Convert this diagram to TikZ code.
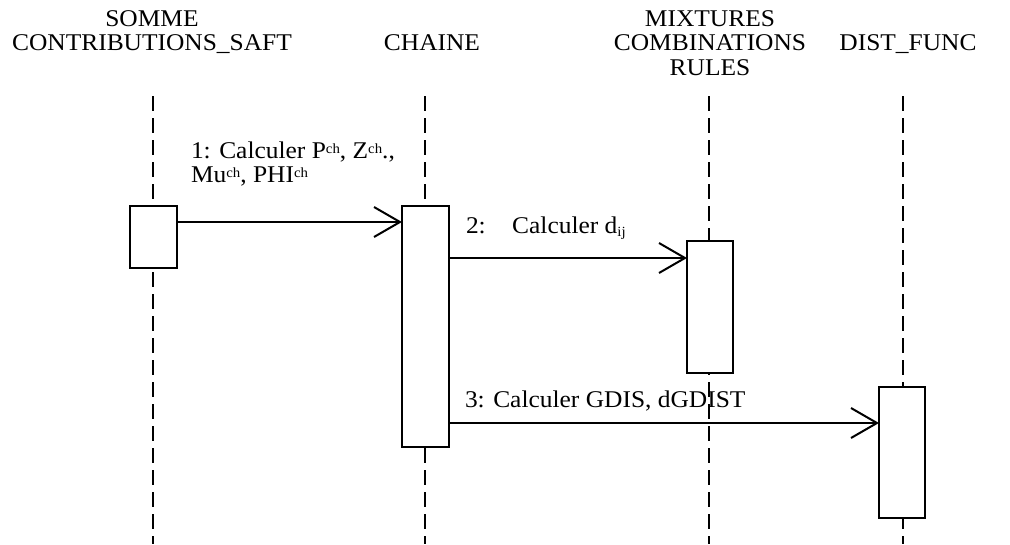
\documentclass[tikz,border=0pt]{standalone}
\usepackage{fontspec}
\setmainfont[FakeStretch=1.06]{Liberation Serif}
\usetikzlibrary{arrows.meta}
\newcommand\supch[1]{\raisebox{0.42ex}{\fontsize{14}{14}\selectfont #1}}
\newcommand\subij[1]{\raisebox{-0.35ex}{\fontsize{14}{14}\selectfont #1}}
\begin{document}
\begin{tikzpicture}[x=1pt,y=-1pt,
  every node/.style={inner sep=0pt,outer sep=0pt},
  hdr/.style={font=\fontsize{24}{28}\selectfont, anchor=base},
  lbl/.style={font=\fontsize{24}{28}\selectfont, anchor=base west},
  life/.style={line width=2pt, dash pattern=on 15pt off 7pt},
  act/.style={draw, line width=2pt, fill=white, anchor=north west},
  msg/.style={line width=2pt, -{Straight Barb[length=26pt,width=30pt,line width=2pt]}}
]
\useasboundingbox (0,0) rectangle (1010,544);
% headers
\node[hdr] (hS2) at (152,26) {SOMME};
\node[hdr] (hS) at (152,50.5) {CONTRIBUTIONS\_SAFT};
\node[hdr] (hC) at (432,50.5) {CHAINE};
\node[hdr] (hM1) at (710,26) {MIXTURES};
\node[hdr] (hM2) at (710,50.5) {COMBINATIONS};
\node[hdr] (hM3) at (710,75) {RULES};
\node[hdr] (hD) at (908,50.5) {DIST\_FUNC};
% lifelines
\coordinate (sT) at (153,96); \coordinate (sB) at (153,544);
\coordinate (cT) at (425,96); \coordinate (cB) at (425,544);
\coordinate (mT) at (709,96); \coordinate (mB) at (709,544);
\coordinate (dT) at (903,96); \coordinate (dB) at (903,544);
\draw[life] (sT) -- (sB);
\draw[life] (cT) -- (cB);
\draw[life] (mT) -- (mB);
\draw[life] (dT) -- (dB);
% labels
\node[lbl] (l1a) at (191,158) {1: Calculer P\supch{ch}, Z\supch{ch}.,};
\node[lbl] (l1b) at (191,182) {Mu\supch{ch}, PHI\supch{ch}};
\node[lbl] (l2) at (466,233) {2:\hspace{1.1em}Calculer d\subij{ij}};
\node[lbl] (l3) at (465,407) {3: Calculer GDIS, dGDIST};
\draw[line width=2pt, dash pattern=on 15pt off 7pt] (709,382) -- (709,420);
% activation boxes
\node[act, minimum width=47pt, minimum height=62pt] (bS) at (130,206) {};
\node[act, minimum width=47pt, minimum height=241pt] (bC) at (402,206) {};
\node[act, minimum width=46pt, minimum height=132pt] (bM) at (687,241) {};
\node[act, minimum width=46pt, minimum height=131pt] (bD) at (879,387) {};
% messages
\draw[msg] (bS.east |- 0,222) -- (bC.west |- 0,222);
\draw[msg] (bC.east |- 0,258) -- (bM.west |- 0,258);
\draw[msg] (bC.east |- 0,423) -- (bD.west |- 0,423);
\end{tikzpicture}
\end{document}
